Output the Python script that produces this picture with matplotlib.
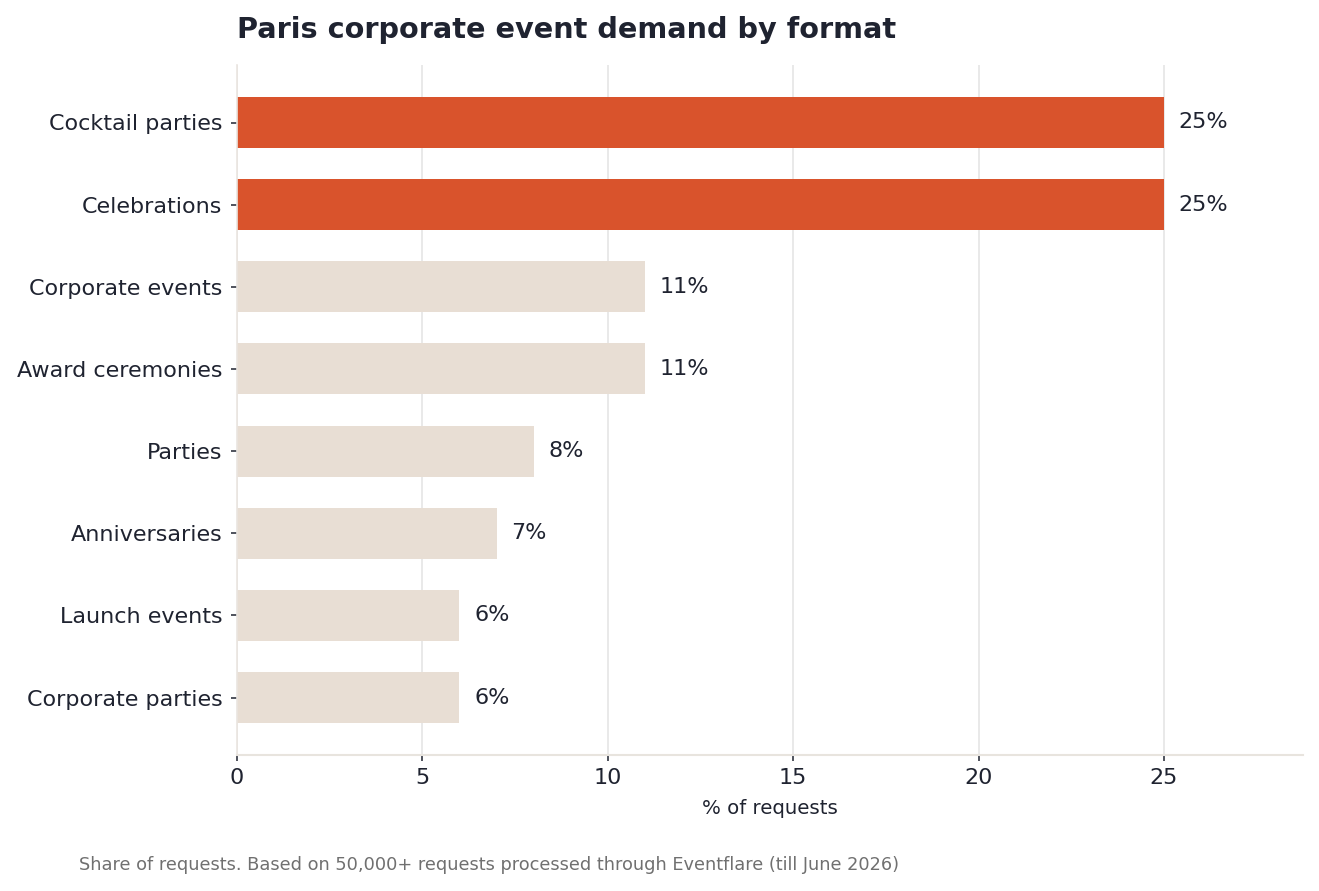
import matplotlib
matplotlib.use("Agg")
import matplotlib.pyplot as plt

categories = ["Cocktail parties", "Celebrations", "Corporate events", "Award ceremonies",
              "Parties", "Anniversaries", "Launch events", "Corporate parties"]
values = [25, 25, 11, 11, 8, 7, 6, 6]
highlight = [True, True, False, False, False, False, False, False]

title = "Paris corporate event demand by format"
xlabel = "% of requests"
footnote = "Share of requests. Based on 50,000+ requests processed through Eventflare (till June 2026)"

HI = "#D9532C"
LO = "#E8DED4"
TXT = "#1F2330"

fig = plt.figure(figsize=(13.19, 8.91), dpi=100)
ax = fig.add_axes([237/1319, 1 - 755/891, (1303-237)/1319, (755-65)/891])

ypos = list(range(len(categories)))
colors = [HI if h else LO for h in highlight]
ax.barh(ypos, values, height=0.62, color=colors, zorder=2)
ax.set_yticks(ypos)
ax.set_yticklabels(categories, fontsize=16, color=TXT)
ax.set_ylim(len(categories) - 1 + 0.7, -0.7)
ax.set_xlim(0, 28.75)
ax.set_xticks([0, 5, 10, 15, 20, 25])
ax.tick_params(axis="x", labelsize=16, colors=TXT, length=4.5, width=1.1, pad=5)
ax.tick_params(axis="y", colors=TXT, length=4.5, width=1.1, pad=6)
for lab in ax.get_xticklabels():
    lab.set_color(TXT)

ax.grid(axis="x", color="#E5E5E5", linewidth=1.2, zorder=0)
ax.set_axisbelow(True)
for s in ["top", "right"]:
    ax.spines[s].set_visible(False)
ax.spines["left"].set_color("#EAE5E0")
ax.spines["left"].set_linewidth(1.2)
ax.spines["bottom"].set_color("#E8E4DE")
ax.spines["bottom"].set_linewidth(1.5)

for y, v in zip(ypos, values):
    ax.text(v + 0.4, y, f"{v}%", va="center", ha="left", fontsize=16, color=TXT)

ax.set_xlabel(xlabel, fontsize=14.2, color=TXT, labelpad=8)
fig.text(237/1319, 1 - 30/891, title, fontsize=20.7, fontweight="bold", color=TXT,
         ha="left", va="center")
fig.text(79/1319, 1 - 865/891, footnote, fontsize=12.8, color="#707070", ha="left", va="center")

fig.savefig("out.png", dpi=100)
